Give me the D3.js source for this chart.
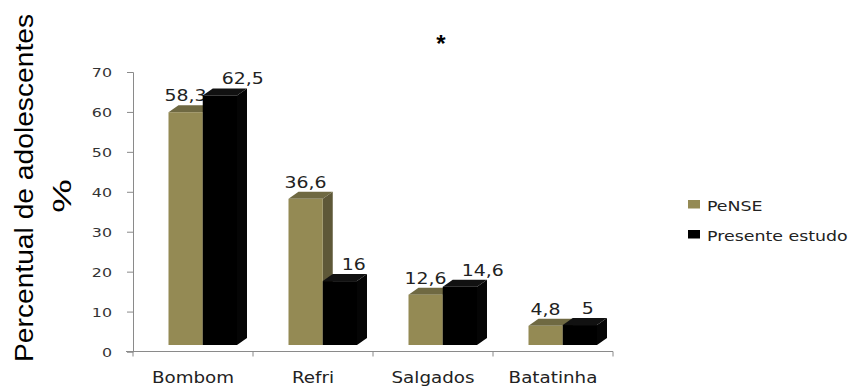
<!DOCTYPE html>
<html><head><meta charset="utf-8">
<script src="https://cdn.jsdelivr.net/npm/d3@7"></script>
<style>body{margin:0;background:#fff}svg{display:block}</style>
</head><body>
<svg id="c" width="859" height="387"></svg>
<script>
const categories = ["Bombom", "Refri", "Salgados", "Batatinha"];
const seriesNames = ["PeNSE", "Presente estudo"];
const pense = [58.3, 36.6, 12.6, 4.8];
const presente = [62.5, 16, 14.6, 5];
const pLabels = ["58,3", "36,6", "12,6", "4,8"];
const eLabels = ["62,5", "16", "14,6", "5"];
const yTicks = [0, 10, 20, 30, 40, 50, 60, 70];

const svg = d3.select("#c");
const FONT = "DejaVu Sans";
const SX = 1.22;
const colors = {
  "PeNSE": {front: "#948A54", top: "#6F6942", side: "#5E5838"},
  "Presente estudo": {front: "#000000", top: "#111111", side: "#050505"}
};
const DX = 10, DY = 7, LIFT = 6.5;

const y = d3.scaleLinear().domain([0, 70]).range([351.5, 72]);
const x0 = d3.scaleBand().domain(categories).range([133, 613]);
const x1 = d3.scaleBand().domain(seriesNames).range([35.5, 104]);

// axes
const axisColor = "#8a8a8a";
const yAxis = svg.append("g").attr("transform", "translate(133,0)")
  .call(d3.axisLeft(y).tickValues(yTicks).tickSize(6).tickPadding(15).tickFormat(d3.format("d")));
yAxis.select(".domain").attr("stroke", axisColor);
yAxis.selectAll(".tick line").attr("stroke", axisColor);
yAxis.selectAll(".tick text").each(function(d){
  const t = d3.select(this);
  t.attr("font-family", FONT).attr("font-size", 13).attr("fill", "#333")
   .attr("x", 0).attr("dy", "0.36em")
   .attr("transform", `translate(-21,0) scale(${SX},1)`);
});

const xAxis = svg.append("g").attr("transform", `translate(0,${y(0)})`)
  .call(d3.axisBottom(x0).tickSize(0).tickSizeOuter(0).tickFormat(""));
xAxis.select(".domain").attr("stroke", axisColor).attr("d", `M126,0H613`);
// category separators
const sepX = categories.map(c => x0(c)).concat([x0.range()[1]]);
svg.append("g").selectAll("line").data(sepX).join("line")
  .attr("x1", d => d).attr("x2", d => d)
  .attr("y1", y(0)).attr("y2", y(0) + 5).attr("stroke", axisColor);

svg.append("g").selectAll("text").data(categories).join("text")
  .attr("transform", d => `translate(${x0(d) + x0.bandwidth() / 2},383) scale(${SX},1)`)
  .attr("text-anchor", "middle").attr("font-family", FONT).attr("font-size", 15)
  .attr("fill", "#222").text(d => d);

// bars
const rows = [
  {name: "PeNSE", vals: pense, labels: pLabels},
  {name: "Presente estudo", vals: presente, labels: eLabels}
];
rows.forEach(r => {
  const g = svg.append("g");
  const col = colors[r.name];
  categories.forEach((c, i) => {
    const v = r.vals[i];
    const xl = x0(c) + x1(r.name), xr = xl + x1.bandwidth();
    const yt = y(v) - LIFT, yb = y(0) - LIFT;
    g.append("path").attr("fill", col.side)
      .attr("d", `M${xr},${yt}L${xr + DX},${yt - DY}L${xr + DX},${yb - DY}L${xr},${yb}Z`);
    g.append("path").attr("fill", col.top)
      .attr("d", `M${xl},${yt}L${xl + DX},${yt - DY}L${xr + DX},${yt - DY}L${xr},${yt}Z`);
    g.append("rect").attr("x", xl).attr("y", yt).attr("width", xr - xl).attr("height", yb - yt)
      .attr("fill", col.front);
    const isP = r.name === "PeNSE";
    const lx = isP ? (xl + xr) / 2 : xl + 19;
    g.append("text")
      .attr("transform", `translate(${lx},${yt - 11}) scale(1.18,1)`)
      .attr("text-anchor", isP ? "middle" : "start")
      .attr("font-family", FONT).attr("font-size", 16).attr("fill", "#222")
      .text(r.labels[i]);
  });
});

// legend
const leg = svg.append("g");
seriesNames.forEach((s, i) => {
  leg.append("rect").attr("x", 688).attr("y", 200 + i * 30).attr("width", 12).attr("height", 8.5)
    .attr("fill", colors[s].front);
  leg.append("text").attr("transform", `translate(707,${210.5 + i * 30}) scale(1.2,1)`)
    .attr("font-family", FONT).attr("font-size", 14.5).attr("fill", "#222").text(s);
});

// y title
svg.append("text").attr("transform", "translate(33,188) rotate(-90)")
  .attr("text-anchor", "middle").attr("font-family", "Liberation Sans").attr("font-size", 25)
  .attr("textLength", 348).attr("lengthAdjust", "spacingAndGlyphs")
  .attr("fill", "#000").text("Percentual de adolescentes");
svg.append("text").attr("transform", "translate(71,196) rotate(-90) scale(1.45,1)")
  .attr("text-anchor", "middle").attr("font-family", "Liberation Sans").attr("font-size", 26)
  .attr("fill", "#000").text("%");

// asterisk
svg.append("text").attr("x", 441).attr("y", 52).attr("text-anchor", "middle")
  .attr("font-family", "Liberation Sans").attr("font-size", 24).attr("font-weight", "bold")
  .attr("fill", "#000").text("*");
</script>
</body></html>
